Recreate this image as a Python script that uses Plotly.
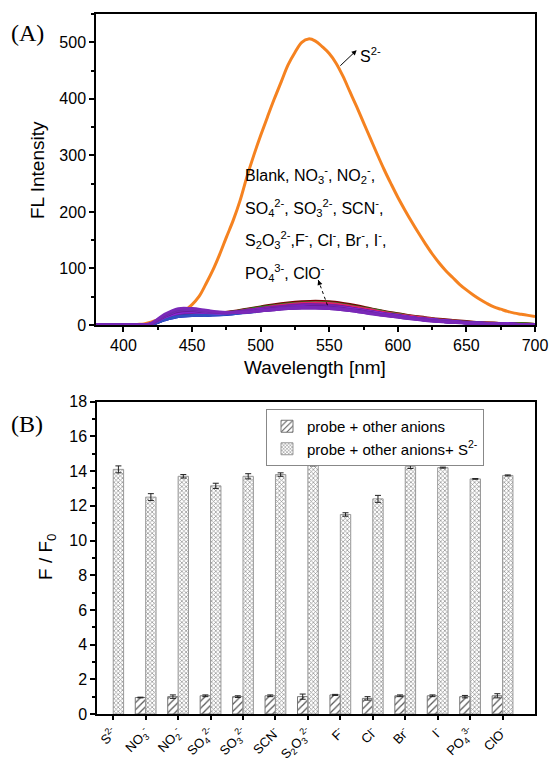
import plotly.graph_objects as go

# ---------------- Panel A data ----------------
wl_s2 = [380, 385, 390, 395, 400, 405, 410, 415, 420, 425, 430, 435, 440, 445, 450, 455, 460, 465,
         470, 475, 480, 485, 490, 495, 500, 505, 510, 515, 520, 525, 530, 535, 540, 545, 550, 555,
         560, 565, 570, 575, 580, 585, 590, 595, 600, 605, 610, 615, 620, 625, 630, 635, 640, 645,
         650, 655, 660, 665, 670, 675, 680, 685, 690, 695, 700]
fl_s2 = [0, 0, 0, 0, 0, 0, 1, 2, 5, 9, 12, 15, 20, 26, 36, 50, 72, 96,
         124, 155, 185, 220, 262, 300, 335, 368, 400, 430, 460, 482, 500, 506, 502, 492, 480, 463,
         440, 413, 386, 358, 330, 302, 275, 250, 226, 204, 183, 163, 144, 126, 110, 96, 84, 72,
         62, 53, 45, 38, 32, 28, 24, 21, 19, 17, 15]

wl_other = [380, 390, 400, 410, 420, 430, 440, 450, 460, 470, 480, 490, 500, 510, 520, 530, 540,
            550, 560, 570, 580, 590, 600, 610, 620, 630, 640, 650, 660, 670, 680, 690, 700]
fl_blank = [0, 0, 0, 0, 1, 10, 17, 19, 19, 20, 22, 25, 28, 31, 34, 36, 37, 36, 33, 29, 25, 21, 17, 14, 11, 8, 6, 5, 4, 3, 2, 2, 1]
fl_no3 = [0, 0, 0, 0, 1, 11, 18, 20, 20, 21, 24, 28, 32, 36, 39, 41, 42, 41, 38, 34, 29, 24, 20, 16, 13, 10, 8, 6, 4, 3, 2, 2, 1]
fl_no2 = [0, 0, 0, 0, 1, 10, 17, 19, 19, 21, 23, 27, 31, 34, 37, 39, 40, 39, 36, 32, 28, 23, 19, 15, 12, 9, 7, 5, 4, 3, 2, 2, 1]
fl_so4 = [0, 0, 0, 0, 1, 10, 17, 19, 18, 20, 22, 26, 29, 33, 36, 38, 39, 38, 35, 31, 27, 22, 18, 15, 12, 9, 7, 5, 4, 3, 2, 1, 1]
fl_so3 = [0, 0, 0, 0, 1, 9, 15, 17, 17, 18, 20, 23, 26, 29, 31, 33, 33, 32, 30, 27, 23, 19, 16, 13, 10, 8, 6, 4, 3, 2, 2, 1, 1]
fl_scn = [0, 0, 0, 0, 1, 10, 16, 18, 18, 19, 21, 24, 27, 30, 33, 35, 35, 34, 32, 28, 24, 20, 17, 13, 10, 8, 6, 5, 3, 2, 2, 1, 1]
fl_s2o3 = [0, 0, 0, 0, 2, 13, 20, 22, 21, 21, 23, 26, 29, 32, 34, 36, 36, 35, 32, 28, 24, 20, 16, 13, 10, 8, 6, 4, 3, 2, 2, 1, 1]
fl_f = [0, 0, 0, 0, 1, 9, 15, 17, 17, 18, 20, 22, 25, 28, 30, 31, 32, 31, 29, 26, 22, 18, 15, 12, 9, 7, 5, 4, 3, 2, 1, 1, 1]
fl_cl = [0, 0, 0, 0, 2, 14, 22, 24, 22, 21, 22, 24, 27, 29, 31, 33, 33, 32, 30, 27, 23, 19, 16, 13, 10, 8, 6, 4, 3, 2, 2, 1, 1]
fl_br = [0, 0, 0, 0, 2, 15, 24, 25, 23, 22, 22, 24, 26, 29, 31, 32, 33, 32, 29, 26, 22, 18, 15, 12, 9, 7, 5, 4, 3, 2, 1, 1, 1]
fl_i = [0, 0, 0, 0, 2, 16, 26, 27, 24, 22, 22, 23, 25, 28, 30, 31, 31, 30, 28, 25, 21, 18, 15, 12, 9, 7, 5, 4, 3, 2, 1, 1, 0]
fl_po4 = [0, 0, 0, 0, 2, 17, 27, 28, 25, 22, 22, 23, 25, 27, 29, 30, 30, 29, 27, 24, 21, 17, 14, 11, 9, 7, 5, 4, 3, 2, 1, 1, 0]
fl_clo = [0, 0, 0, 0, 3, 19, 29, 29, 26, 23, 22, 23, 25, 27, 29, 30, 30, 29, 27, 24, 20, 17, 14, 11, 8, 6, 5, 3, 2, 2, 1, 1, 0]

other_names = ["Blank", "NO3-", "NO2-", "SO4 2-", "SO3 2-", "SCN-", "S2O3 2-", "F-", "Cl-", "Br-", "I-", "PO4 3-", "ClO-"]
other_curves = [fl_blank, fl_no3, fl_no2, fl_so4, fl_so3, fl_scn, fl_s2o3, fl_f, fl_cl, fl_br, fl_i, fl_po4, fl_clo]
other_colors = ["#d01010", "#7a0000", "#1a8a1a", "#e0206a", "#0000cc", "#2a2aa0", "#7b1fa2",
                "#3050c0", "#8a2be2", "#6a1b9a", "#7b2fbe", "#6b2aa8", "#7a28b8"]

# ---------------- Panel B data ----------------
anion_labels = ["S<sup>2-</sup>", "NO<sub>3</sub><sup>-</sup>", "NO<sub>2</sub><sup>-</sup>",
                "SO<sub>4</sub><sup>2-</sup>", "SO<sub>3</sub><sup>2-</sup>", "SCN<sup>-</sup>",
                "S<sub>2</sub>O<sub>3</sub><sup>2-</sup>", "F<sup>-</sup>", "Cl<sup>-</sup>",
                "Br<sup>-</sup>", "I<sup>-</sup>", "PO<sub>4</sub><sup>3-</sup>", "ClO<sup>-</sup>"]
ratio_other = [None, 0.95, 1.0, 1.05, 1.0, 1.05, 1.0, 1.1, 0.9, 1.05, 1.05, 1.0, 1.05]
err_other = [0, 0.02, 0.1, 0.05, 0.05, 0.05, 0.15, 0.03, 0.1, 0.05, 0.05, 0.07, 0.12]
ratio_s2 = [14.1, 12.5, 13.7, 13.15, 13.7, 13.8, 14.4, 11.5, 12.4, 14.25, 14.2, 13.55, 13.75]
err_s2 = [0.2, 0.2, 0.1, 0.15, 0.15, 0.1, 0.1, 0.1, 0.2, 0.1, 0.03, 0.02, 0.03]
group_pos = list(range(len(anion_labels)))

FONT = "Arial, Liberation Sans, sans-serif"
SERIF = "Liberation Serif, Times New Roman, serif"
W, H = 549, 758


def px_x(p):
    return p / W


def px_y(p):
    return 1 - p / H


fig = go.Figure()

fig.add_trace(go.Scatter(x=wl_s2, y=fl_s2, mode="lines", line=dict(color="#f58220", width=3, shape="spline"),
                         showlegend=False, xaxis="x", yaxis="y"))
for name, ys, col in zip(other_names, other_curves, other_colors):
    fig.add_trace(go.Scatter(x=wl_other, y=ys, mode="lines", line=dict(color=col, width=3, shape="spline"),
                             name=name, showlegend=False, xaxis="x", yaxis="y"))

fig.add_trace(go.Bar(x=group_pos, y=ratio_other, name="probe + other anions",
                     marker=dict(color="#f4f4f4", line=dict(color="#777777", width=1),
                                 pattern=dict(shape="/", fgcolor="#555555", size=5, solidity=0.25)),
                     error_y=dict(type="data", array=err_other, color="#222222", thickness=1, width=3),
                     xaxis="x2", yaxis="y2"))
fig.add_trace(go.Bar(x=group_pos, y=ratio_s2, name="probe + other anions+ S<sup>2-</sup>",
                     marker=dict(color="#e2e2e2", line=dict(color="#999999", width=1),
                                 pattern=dict(shape="x", fgcolor="#8c8c8c", size=3, solidity=0.4)),
                     error_y=dict(type="data", array=err_s2, color="#222222", thickness=1, width=3),
                     xaxis="x2", yaxis="y2"))

axis_common = dict(showline=True, linecolor="black", linewidth=1.5, mirror=True, ticks="outside",
                   ticklen=5, tickwidth=1.5, tickcolor="black", showgrid=False, zeroline=False,
                   automargin=False)

fig.update_layout(
    template="none",
    width=W, height=H, margin=dict(l=0, r=0, t=0, b=0, pad=0),
    paper_bgcolor="white", plot_bgcolor="white",
    font=dict(family=FONT, color="black"),
    barmode="group", bargap=0.36, bargroupgap=0,
    xaxis=dict(domain=[px_x(96), px_x(535)], anchor="y", range=[380, 700], dtick=50,
               tickfont=dict(family=FONT, size=16, color="black"),
               minor=dict(ticks="outside", dtick=25, ticklen=3, tickcolor="black"), **axis_common),
    yaxis=dict(domain=[px_y(325), px_y(14)], anchor="x", range=[0, 550], tickvals=[0, 100, 200, 300, 400, 500],
               tickfont=dict(family=FONT, size=16, color="black"),
               minor=dict(ticks="outside", dtick=50, ticklen=3, tickcolor="black"), **axis_common),
    xaxis2=dict(domain=[px_x(97), px_x(535)], anchor="y2", range=[-0.5, 13], tickvals=group_pos,
                ticktext=anion_labels, tickangle=-45,
                tickfont=dict(family=FONT, size=13, color="black"), **axis_common),
    yaxis2=dict(domain=[px_y(714), px_y(401.7)], anchor="x2", range=[0, 18], dtick=2,
                tickfont=dict(family=FONT, size=16, color="black"),
                minor=dict(ticks="outside", dtick=1, ticklen=3, tickcolor="black"), **axis_common),
    legend=dict(x=px_x(266), y=px_y(409), xanchor="left", yanchor="top",
                bordercolor="#888888", borderwidth=1, bgcolor="white",
                font=dict(family=FONT, size=15, color="black"), tracegroupgap=0,
                itemwidth=30),
)
fig.update_xaxes(ticklen=4, selector=dict(anchor="y2"))

ann = []
ann.append(dict(text="(A)", x=px_x(9), y=px_y(33), xref="paper", yref="paper", xanchor="left",
                yanchor="middle", showarrow=False, font=dict(family=SERIF, size=24)))
ann.append(dict(text="(B)", x=px_x(9), y=px_y(424), xref="paper", yref="paper", xanchor="left",
                yanchor="middle", showarrow=False, font=dict(family=SERIF, size=24)))
ann.append(dict(text="FL Intensity", x=px_x(38), y=px_y(170), xref="paper", yref="paper", textangle=-90,
                xanchor="center", yanchor="middle", showarrow=False, font=dict(family=FONT, size=19)))
ann.append(dict(text="Wavelength [nm]", x=px_x(315), y=px_y(367), xref="paper", yref="paper",
                xanchor="center", yanchor="middle", showarrow=False, font=dict(family=FONT, size=19)))
ann.append(dict(text="F / F<sub>0</sub>", x=px_x(47), y=px_y(557), xref="paper", yref="paper", textangle=-90,
                xanchor="center", yanchor="middle", showarrow=False, font=dict(family=FONT, size=19)))
lines = ["Blank, NO<sub>3</sub><sup>-</sup>, NO<sub>2</sub><sup>-</sup>,",
         "SO<sub>4</sub><sup>2-</sup>, SO<sub>3</sub><sup>2-</sup>, SCN<sup>-</sup>,",
         "S<sub>2</sub>O<sub>3</sub><sup>2-</sup>,F<sup>-</sup>, Cl<sup>-</sup>, Br<sup>-</sup>, I<sup>-</sup>,",
         "PO<sub>4</sub><sup>3-</sup>, ClO<sup>-</sup>"]
line_y = [265, 207, 150, 92]
for t, yv in zip(lines, line_y):
    ann.append(dict(text=t, x=487, y=yv, xref="x", yref="y", xanchor="left", yanchor="middle",
                    showarrow=False, font=dict(family=FONT, size=16)))
ann.append(dict(text="", x=570, y=486, ax=557, ay=456, xref="x", yref="y", axref="x", ayref="y",
                showarrow=True, arrowhead=2, arrowsize=1, arrowwidth=1, arrowcolor="black"))
ann.append(dict(text="S<sup>2-</sup>", x=571, y=477, xref="x", yref="y", xanchor="left", yanchor="middle",
                showarrow=False, font=dict(family=FONT, size=16)))
ann.append(dict(text="", x=542, y=79.5, ax=543, ay=72.8, xref="x", yref="y", axref="x", ayref="y",
                showarrow=True, arrowhead=2, arrowsize=1, arrowwidth=1, arrowcolor="black"))
fig.update_layout(annotations=ann)
fig.add_shape(type="line", x0=548.7, y0=35, x1=542, y1=79.5, xref="x", yref="y",
              line=dict(color="black", width=1, dash="dot"))

fig.write_html("out.html", config={"displayModeBar": False},
               post_script="document.body.style.margin='0px';document.body.style.overflow='hidden';")
